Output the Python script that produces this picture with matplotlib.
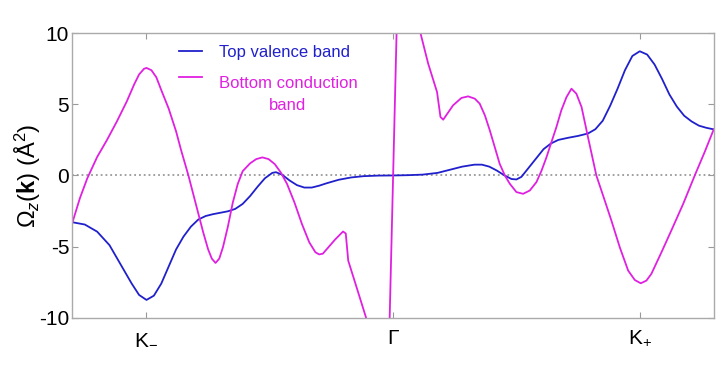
import matplotlib
matplotlib.use("Agg")
import matplotlib.pyplot as plt

plt.rcParams['font.family'] = ['Liberation Sans', 'DejaVu Sans']
plt.rcParams['mathtext.fontset'] = 'custom'
plt.rcParams['mathtext.rm'] = 'Liberation Sans'
plt.rcParams['mathtext.it'] = 'Liberation Sans:italic'
plt.rcParams['mathtext.bf'] = 'Liberation Sans:bold'
plt.rcParams['axes.unicode_minus'] = False

# k-path coordinate (K- = -1, Gamma = 0, K+ = 1), Berry curvature in A^2
k_valence = [-1.30, -1.25, -1.20, -1.15, -1.10, -1.06, -1.03, -1.00, -0.97, -0.94,
             -0.91, -0.88, -0.85, -0.82, -0.79, -0.76, -0.73, -0.70, -0.67, -0.64,
             -0.61, -0.58, -0.55, -0.52, -0.49, -0.475, -0.45, -0.42, -0.39, -0.36,
             -0.33, -0.30, -0.27, -0.22, -0.17, -0.12, -0.06, 0.0, 0.06, 0.12,
             0.18, 0.23, 0.28, 0.33, 0.36, 0.39, 0.42, 0.45, 0.48, 0.50,
             0.52, 0.55, 0.58, 0.61, 0.64, 0.67, 0.71, 0.75, 0.79, 0.82,
             0.85, 0.88, 0.91, 0.94, 0.97, 1.00, 1.03, 1.06, 1.09, 1.12,
             1.15, 1.18, 1.21, 1.24, 1.27, 1.30]
omega_valence = [-3.29, -3.45, -3.95, -4.90, -6.40, -7.60, -8.40, -8.75, -8.45, -7.60,
                 -6.40, -5.20, -4.30, -3.60, -3.10, -2.85, -2.72, -2.62, -2.52, -2.35,
                 -2.00, -1.45, -0.80, -0.20, 0.18, 0.23, 0.05, -0.35, -0.68, -0.85,
                 -0.85, -0.72, -0.55, -0.30, -0.14, -0.05, -0.01, 0.0, 0.02, 0.06,
                 0.18, 0.40, 0.62, 0.76, 0.76, 0.62, 0.35, 0.02, -0.25, -0.28,
                 -0.10, 0.55, 1.20, 1.85, 2.25, 2.50, 2.65, 2.78, 2.95, 3.25,
                 3.85, 4.90, 6.10, 7.40, 8.40, 8.73, 8.50, 7.80, 6.80, 5.70,
                 4.85, 4.20, 3.80, 3.50, 3.35, 3.24]

k_conduction = [-1.30, -1.27, -1.24, -1.20, -1.16, -1.12, -1.08, -1.05, -1.03, -1.01,
                -1.00, -0.98, -0.96, -0.94, -0.91, -0.88, -0.86, -0.83, -0.80, -0.77,
                -0.75, -0.735, -0.72, -0.705, -0.69, -0.67, -0.65, -0.63, -0.61, -0.58,
                -0.555, -0.53, -0.505, -0.48, -0.455, -0.43, -0.40, -0.37, -0.34, -0.315,
                -0.30, -0.285, -0.26, -0.235, -0.203, -0.192, -0.182, -0.148, -0.11, -0.075,
                -0.035, -0.014, 0.0, 0.014, 0.05, 0.09, 0.111, 0.142, 0.178, 0.192,
                0.203, 0.243, 0.277, 0.304, 0.331, 0.351, 0.372, 0.392, 0.412, 0.432,
                0.453, 0.473, 0.50, 0.527, 0.554, 0.581, 0.602, 0.622, 0.642, 0.662,
                0.682, 0.703, 0.723, 0.743, 0.764, 0.777, 0.79, 0.824, 0.858, 0.885,
                0.919, 0.953, 0.98, 1.004, 1.027, 1.047, 1.088, 1.128, 1.176, 1.223,
                1.263, 1.30]
omega_conduction = [-3.29, -1.60, -0.20, 1.30, 2.50, 3.80, 5.20, 6.40, 7.10, 7.50,
                    7.56, 7.40, 6.90, 6.00, 4.70, 3.10, 1.80, 0.0, -2.00, -4.00,
                    -5.20, -5.85, -6.15, -5.85, -5.05, -3.60, -1.90, -0.60, 0.30, 0.85,
                    1.15, 1.27, 1.15, 0.80, 0.20, -0.60, -1.90, -3.40, -4.70, -5.40,
                    -5.55, -5.50, -5.00, -4.50, -3.94, -4.08, -5.99, -7.87, -9.98, -13.0,
                    -13.0, -10.0, 0.0, 10.0, 13.0, 13.0, 10.0, 7.87, 5.87, 4.11,
                    3.92, 4.93, 5.45, 5.56, 5.40, 5.05, 4.23, 3.17, 2.00, 0.82,
                    0.0, -0.58, -1.17, -1.29, -1.06, -0.47, 0.35, 1.29, 2.35, 3.40,
                    4.58, 5.51, 6.10, 5.75, 4.81, 3.76, 2.70, 0.0, -1.76, -3.17,
                    -5.05, -6.69, -7.35, -7.58, -7.39, -6.92, -5.40, -3.87, -2.00, 0.0,
                    1.64, 3.24]

tick_pos = [-1, 0, 1]
tick_labels = [r'K$_{-}$', r'$\Gamma$', r'K$_{+}$']

fig = plt.figure(figsize=(7.2, 3.69), dpi=100)
ax = fig.add_axes([0.1, 0.139, 0.892, 0.771])

ax.axhline(0, color='#999999', linestyle=':', linewidth=1.3, zorder=1)
ax.plot(k_valence, omega_valence, color='#2020cc', linewidth=1.3, label='Top valence band')
ax.plot(k_conduction, omega_conduction, color='#e020e0', linewidth=1.3,
        label='Bottom conduction\nband')

ax.set_xlim(-1.302, 1.302)
ax.set_ylim(-10, 10)
ax.set_yticks([-10, -5, 0, 5, 10])
ax.set_xticks(tick_pos)
ax.set_xticklabels(tick_labels)
ax.tick_params(direction='in', top=True, right=True, length=4, color='#999999',
               labelsize=15)
ax.tick_params(axis='y', pad=2)
ax.tick_params(axis='x', pad=8)
for s in ax.spines.values():
    s.set_color('#aaaaaa')
    s.set_linewidth(1.0)
ax.set_ylabel(r'$\Omega_z(\mathbf{k})$ (Å$^2$)', fontsize=17, labelpad=-3)

leg = ax.legend(loc='upper left', bbox_to_anchor=(0.144, 1.013), frameon=False,
                fontsize=12, handlelength=1.35, handletextpad=1.0,
                labelspacing=1.0, labelcolor='linecolor')
leg.get_texts()[1].set_multialignment('center')
leg.get_texts()[1].set_linespacing(1.6)
h = leg.legend_handles[1]
h.set_ydata([v + 13 for v in h.get_ydata()])

fig.savefig('out.png', dpi=100)
